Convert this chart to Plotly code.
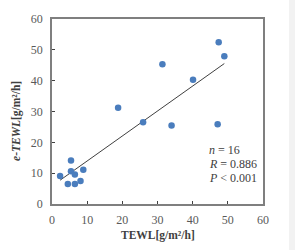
import numpy as np
import plotly.graph_objects as go

tewl = [2.3, 5.4, 5.4, 4.5, 6.5, 6.5, 8.1, 8.9, 18.8, 25.9, 47.4, 49.0, 31.4, 40.1, 34.0, 47.1]
e_tewl = [9.1, 14.1, 10.6, 6.5, 9.6, 6.5, 7.5, 11.1, 31.2, 26.5, 52.5, 47.9, 45.3, 40.3, 25.5, 25.9]
x_ticks = [0, 10, 20, 30, 40, 50, 60]
y_ticks = [0, 10, 20, 30, 40, 50, 60]
stats = ["<i>n</i> = 16", "<i>R</i> = 0.886", "<i>P</i> < 0.001"]

slope, intercept = np.polyfit(tewl, e_tewl, 1)
lx = np.array([min(tewl), max(tewl)])
ly = slope * lx + intercept

serif = "Liberation Serif, Times New Roman, serif"
fig = go.Figure()
fig.add_trace(go.Scatter(x=lx, y=ly, mode="lines",
                         line=dict(color="#404040", width=1), showlegend=False))
fig.add_trace(go.Scatter(x=tewl, y=e_tewl, mode="markers",
                         marker=dict(color="#4a7dbd", size=6.5), showlegend=False))

axis_common = dict(showline=True, linecolor="#7f7f7f", linewidth=1.5, mirror=True,
                   showgrid=False, zeroline=False, ticks="inside", ticklen=3,
                   tickcolor="#404040", tickfont=dict(family=serif, size=12, color="#595959"))
fig.update_xaxes(range=[0, 60], tickvals=x_ticks, ticklabelstandoff=4, **axis_common)
fig.update_yaxes(range=[0, 60], tickvals=y_ticks, ticklabelstandoff=5, **axis_common)

fig.add_annotation(text="<b>TEWL[g/m²/h]</b>", xref="paper", yref="paper",
                   x=0.5, y=-0.172, xanchor="center", yanchor="middle", showarrow=False,
                   font=dict(family=serif, size=11.5, color="#404040"))
fig.add_annotation(text="<b><i>e-TEWL</i>[g/m²/h]</b>", xref="paper", yref="paper",
                   x=-0.165, y=0.45, xanchor="center", yanchor="middle", showarrow=False,
                   textangle=-90, font=dict(family=serif, size=11.5, color="#404040"))
for i, s in enumerate(stats):
    fig.add_annotation(text=s, xref="paper", yref="paper",
                       x=0.733, y=0.292 - i * 0.075, xanchor="left", yanchor="middle",
                       showarrow=False, font=dict(family=serif, size=12, color="#404040"))

fig.add_shape(type="rect", xref="paper", yref="paper", x0=1.123, x1=1.3, y0=-0.4, y1=1.2,
              fillcolor="#f2f2f2", line=dict(width=0), layer="below")

fig.update_layout(width=295, height=250, margin=dict(l=52, r=32, t=12, b=46),
                  paper_bgcolor="white", plot_bgcolor="white")
fig.write_html("out.html")
